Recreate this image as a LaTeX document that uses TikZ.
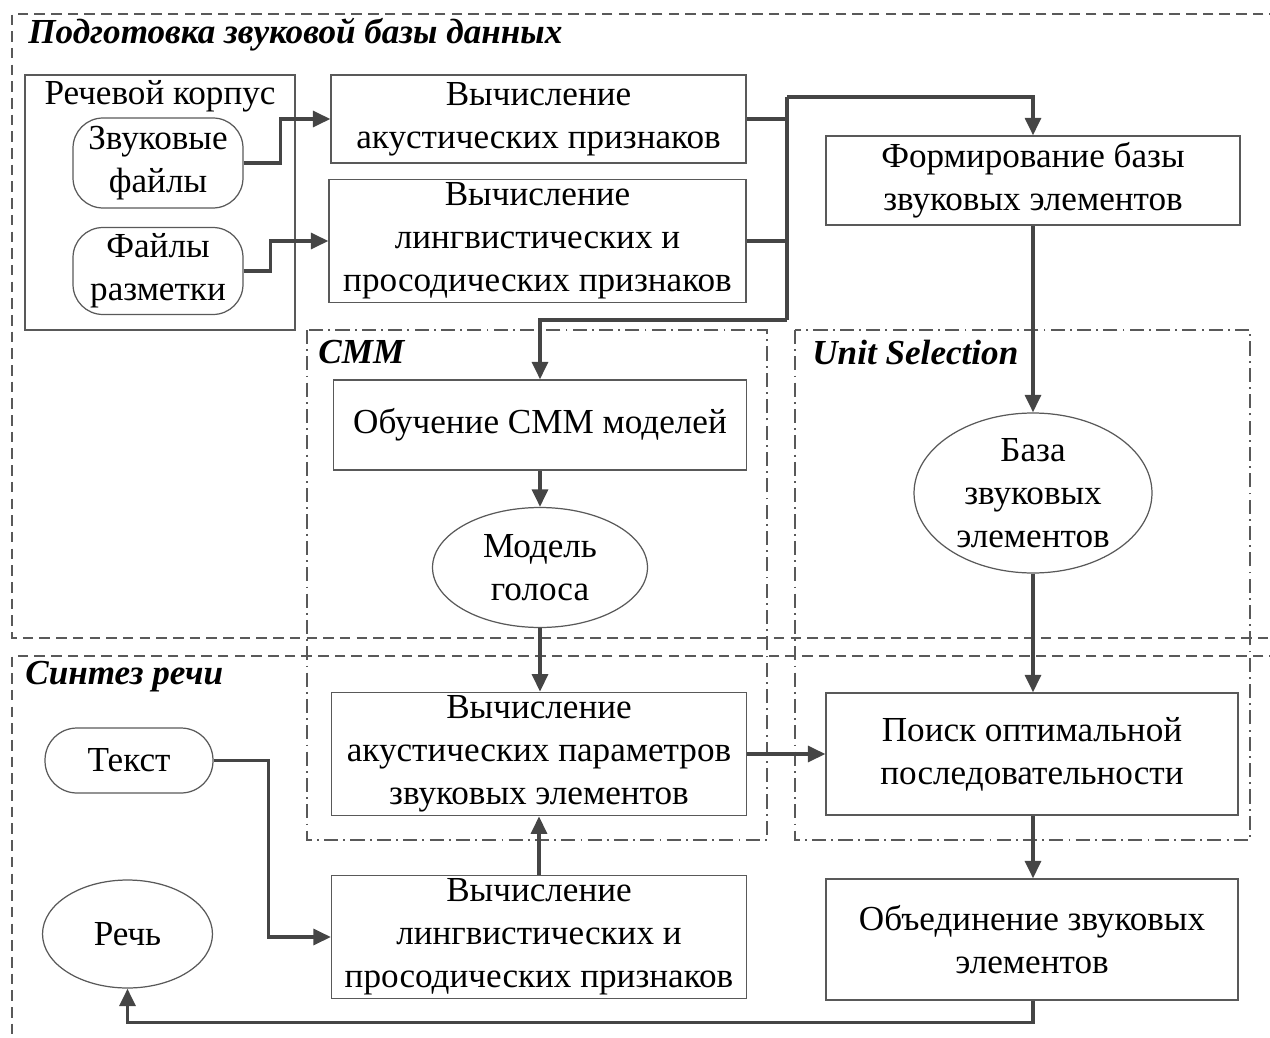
\documentclass[tikz,border=0pt]{standalone}
\usepackage{fontspec}
\setmainfont{Liberation Serif}
\usetikzlibrary{arrows.meta, positioning, shapes.geometric}
\definecolor{Line}{gray}{0.27}
\definecolor{Frame}{gray}{0.35}
\tikzset{
  block/.style={draw=Frame, line width=0.7pt, align=center, inner sep=2pt},
  pill/.style={block, rounded corners=0.6cm},
  oval/.style={block, ellipse, inner sep=0pt},
  link/.style={draw=Line, line width=2.1pt},
  flow/.style={link, -{Triangle[length=10pt,width=9pt]}},
  zone/.style={draw=Frame, line width=0.7pt, dash pattern=on 6pt off 3.5pt},
  group/.style={draw=Frame, line width=0.8pt, dash pattern=on 8pt off 3pt on 1pt off 3pt},
  heading/.style={font=\fontsize{20}{24}\bfseries\itshape\selectfont, anchor=west, inner sep=0pt},
}

\begin{document}
\begin{tikzpicture}[x=0.02cm, y=-0.02cm, font=\fontsize{20}{24.4}\selectfont]
  \clip (0,0) rectangle (1270,1037);

  % zones
  \draw [zone] (1280,14) -- (12,14) -- (12,638) -- (1280,638);
  \draw [zone] (1280,656) -- (12,656) -- (12,1045);
  \draw [group] (307,330) rectangle (767,840);
  \draw [group] (795,330) rectangle (1250,840);

  \node [heading] (prephead) at (28,35) {Подготовка звуковой базы данных};
  \node [heading] (cmmhead) at (318,352) {СММ};
  \node [heading] (ushead) at (812,352) {Unit Selection};
  \node [heading] (synthhead) at (25,677) {Синтез речи};

  % sound database
  \node [block, minimum width=5.4cm, minimum height=5.1cm] (corpus) at (160,202.5) {};
  \node [below=1pt of corpus.north, inner sep=2pt] (corpustitle) {Речевой корпус};
  \node [pill, minimum width=3.4cm, minimum height=1.8cm] (wav) at (158,163) {Звуковые\\файлы};
  \node [pill, minimum width=3.4cm, minimum height=1.74cm] (lab) at (158,271) {Файлы\\разметки};

  \node [block, minimum width=8.3cm, minimum height=1.76cm] (acfeat) at (538.5,119) {Вычисление\\акустических признаков};
  \node [block, minimum width=8.34cm, minimum height=2.44cm] (lingfeat) at (537.5,241) {Вычисление\\лингвистических и\\просодических признаков};
  \node [block, minimum width=8.28cm, minimum height=1.78cm] (form) at (1033,180.5) {Формирование базы\\звуковых элементов};

  \node [block, minimum width=8.26cm, minimum height=1.8cm] (train) at (540,425) {Обучение СММ моделей};
  \node [oval, minimum width=4.3cm, minimum height=2.4cm] (voice) at (540,567.5) {Модель\\голоса};
  \node [oval, minimum width=4.76cm, minimum height=3.2cm] (units) at (1033,493) {База\\звуковых\\элементов};

  % synthesis
  \node [block, minimum width=8.3cm, minimum height=2.44cm] (acpar) at (539,754) {Вычисление\\акустических параметров\\звуковых элементов};
  \node [block, minimum width=8.24cm, minimum height=2.44cm] (search) at (1032,754) {Поиск оптимальной\\последовательности};
  \node [block, minimum width=8.24cm, minimum height=2.42cm] (concat) at (1032,939.5) {Объединение звуковых\\элементов};
  \node [block, minimum width=8.3cm, minimum height=2.44cm] (lingfeat2) at (539,937) {Вычисление\\лингвистических и\\просодических признаков};
  \node [pill, minimum width=3.36cm, minimum height=1.3cm, rounded corners=0.64cm] (text) at (129,760.5) {Текст};
  \node [oval, minimum width=3.4cm, minimum height=2.16cm] (speech) at (127.5,934) {Речь};

  % connectors
  \coordinate (bustop) at (787,97);
  \coordinate (busbot) at (787,320);
  \draw [flow] (wav.east) -- ++(37,0) |- (acfeat.west);
  \draw [flow] (lab.east) -- ++(27,0) |- (lingfeat.west);
  \draw [link] (acfeat.east) -- (acfeat.east -| bustop);
  \draw [link] (lingfeat.east) -- (lingfeat.east -| bustop);
  \draw [link] (bustop) -- (busbot);
  \draw [flow] (bustop) -| (form.north);
  \draw [flow] (busbot) -| (train.north);
  \draw [flow] (train.south) -- (voice.north);
  \draw [flow] (voice.south) -- (voice.south |- acpar.north);
  \draw [flow] (form.south) -- (units.north);
  \draw [flow] (units.south) -- (units.south |- search.north);
  \draw [flow] (acpar.east) -- (search.west);
  \draw [flow] (units.south |- search.south) -- (units.south |- concat.north);
  \draw [flow] (concat.south -| units.south) -- ++(0,22) -| (speech.south);
  \draw [flow] (text.east) -- ++(55,0) |- (lingfeat2.west);
  \draw [flow] (lingfeat2.north) -- (acpar.south);
\end{tikzpicture}
\end{document}
